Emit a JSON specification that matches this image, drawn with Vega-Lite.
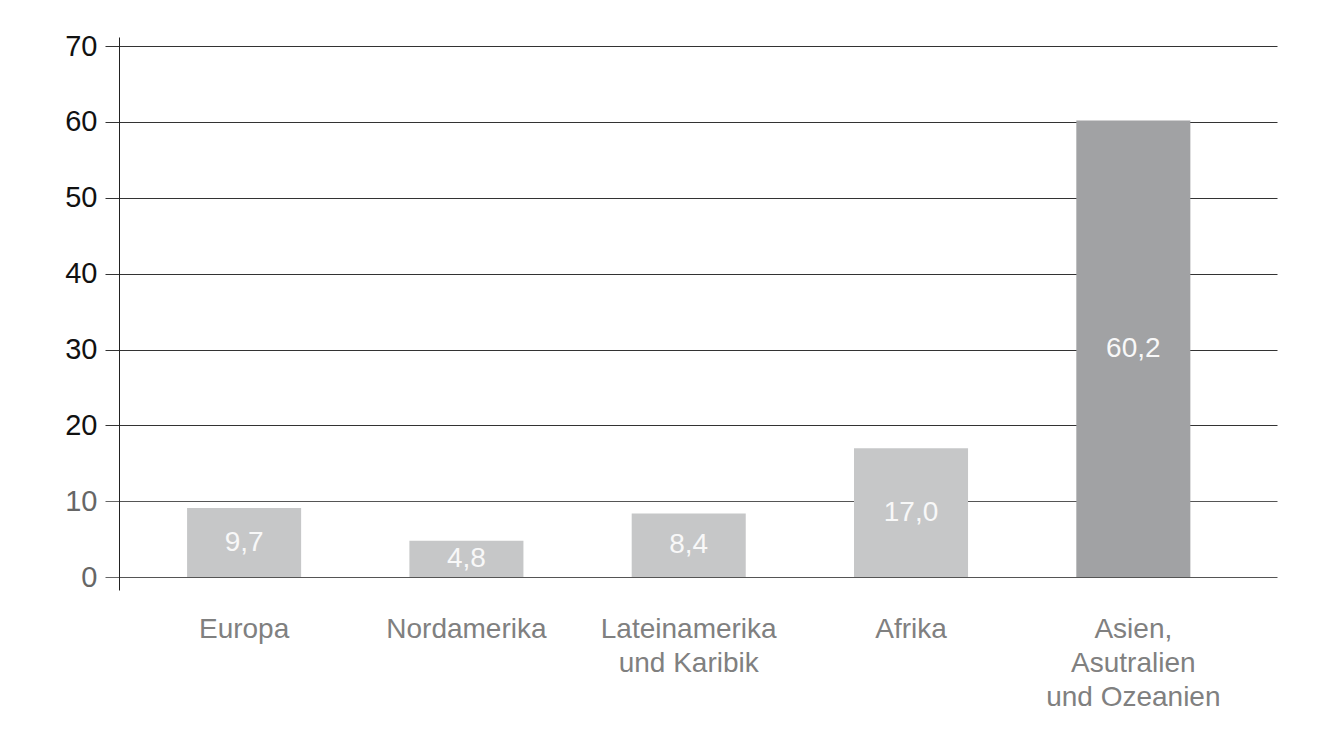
{
  "$schema": "https://vega.github.io/schema/vega-lite/v6.json",
  "autosize": "none",
  "width": 1158,
  "height": 553,
  "padding": {"left": 119, "top": 37, "right": 56, "bottom": 144},
  "background": "white",
  "config": {
    "view": {"stroke": null},
    "font": "Liberation Sans"
  },
  "data": {
    "values": [
      {"region": "Europa", "value": 9.1, "label": "9,7", "highlight": "no"},
      {"region": "Nordamerika", "value": 4.8, "label": "4,8", "highlight": "no"},
      {"region": "Lateinamerika|und Karibik", "value": 8.4, "label": "8,4", "highlight": "no"},
      {"region": "Afrika", "value": 17.0, "label": "17,0", "highlight": "no"},
      {"region": "Asien,|Asutralien|und Ozeanien", "value": 60.2, "label": "60,2", "highlight": "yes"}
    ]
  },
  "encoding": {
    "x": {
      "field": "region",
      "type": "nominal",
      "sort": null,
      "scale": {"paddingInner": 0.487, "paddingOuter": 0.348, "align": 0.44},
      "axis": {
        "title": null,
        "domain": false,
        "ticks": false,
        "labelAngle": 0,
        "labelExpr": "split(datum.label, '|')",
        "labelFont": "Liberation Sans",
        "labelFontSize": 28,
        "labelColor": "#808080",
        "labelPadding": 25,
        "labelLineHeight": 34,
        "labelBaseline": "top"
      }
    }
  },
  "layer": [
    {
      "mark": {"type": "bar"},
      "encoding": {
        "y": {
          "field": "value",
          "type": "quantitative",
          "scale": {"domain": [-1.7, 71.2], "nice": false, "zero": false},
          "axis": {
            "title": null,
            "values": [0, 10, 20, 30, 40, 50, 60, 70],
            "grid": true,
            "gridColor": {"condition": {"test": "datum.value <= 10", "value": "#555555"}, "value": "#333333"},
            "gridWidth": 1,
            "gridOpacity": 1,
            "domain": true,
            "domainColor": "#222222",
            "domainWidth": 1,
            "ticks": true,
            "tickSize": 14,
            "tickColor": {"condition": {"test": "datum.value <= 10", "value": "#666666"}, "value": "#333333"},
            "tickWidth": 1,
            "labelFont": "Liberation Sans",
            "labelFontSize": 29,
            "labelColor": {"condition": {"test": "datum.value <= 10", "value": "#666666"}, "value": "#111111"},
            "labelPadding": 8
          }
        },
        "y2": {"datum": 0},
        "color": {
          "field": "highlight",
          "type": "nominal",
          "scale": {"domain": ["no", "yes"], "range": ["#c6c7c8", "#a1a2a4"]},
          "legend": null
        }
      }
    },
    {
      "transform": [{"calculate": "datum.value / 2", "as": "mid"}],
      "mark": {
        "type": "text",
        "color": "#f8f8f8",
        "font": "Liberation Sans",
        "fontSize": 28,
        "baseline": "middle",
        "align": "center"
      },
      "encoding": {
        "y": {"field": "mid", "type": "quantitative"},
        "text": {"field": "label"}
      }
    }
  ]
}
